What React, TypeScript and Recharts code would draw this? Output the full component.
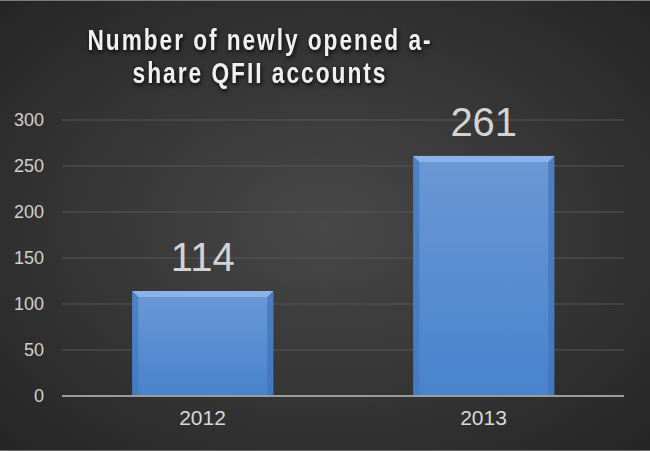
import { BarChart, Bar, XAxis, YAxis, CartesianGrid, LabelList } from 'recharts';

const years = ['2012', '2013'];
const accounts = [114, 261];
const yTicks = [0, 50, 100, 150, 200, 250, 300];

const data = years.map((year, i) => ({ year, value: accounts[i] }));

const FONT = '"Liberation Sans", Arial, Helvetica, sans-serif';

// bar with a light top bevel and darker side edges
const BevelBar = (props: any) => {
  const { x, y, width, height } = props;
  if (!height || height <= 0) return null;
  const b = 6;
  return (
    <g>
      <rect x={x} y={y} width={width} height={height} fill="url(#barFill)" />
      <polygon
        points={`${x},${y} ${x + width},${y} ${x + width - b},${y + b} ${x + b},${y + b}`}
        fill="#8cb2e8"
      />
      <polygon
        points={`${x},${y} ${x + b},${y + b} ${x + b},${y + height} ${x},${y + height}`}
        fill="#4378bd"
        opacity={0.7}
      />
      <polygon
        points={`${x + width},${y} ${x + width - b},${y + b} ${x + width - b},${y + height} ${x + width},${y + height}`}
        fill="#4074b8"
        opacity={0.7}
      />
    </g>
  );
};

export default function App() {
  return (
    <div
      style={{
        position: 'absolute',
        left: 0,
        top: 0,
        width: 650,
        height: 451,
        overflow: 'hidden',
        background: 'radial-gradient(ellipse at 50% 50%, #484848 0%, #383838 45%, #2a2a2a 85%, #252525 100%)',
      }}
    >
      <div style={{ position: 'absolute', left: 0, top: 0, width: 650, height: 1, background: '#7c7c7c' }} />
      <div style={{ position: 'absolute', left: 0, top: 450, width: 650, height: 1, background: '#6a6a6a' }} />

      <svg width={650} height={100} style={{ position: 'absolute', left: 0, top: 0 }}>
        <g
          fontFamily={FONT}
          fontWeight="bold"
          fontSize={29}
          letterSpacing={2.5}
          fill="#f0f0f0"
          textAnchor="middle"
          style={{ filter: 'drop-shadow(1px 2px 2px rgba(0,0,0,0.85))' }}
        >
          <text x={260} y={50} textLength={345} lengthAdjust="spacingAndGlyphs">
            Number of newly opened a-
          </text>
          <text x={260} y={83} textLength={255} lengthAdjust="spacingAndGlyphs">
            share QFII accounts
          </text>
        </g>
      </svg>

      <div style={{ position: 'absolute', left: 0, top: 0 }}>
        <BarChart
          width={650}
          height={451}
          data={data}
          margin={{ top: 120, right: 26, left: 0, bottom: 25 }}
          barCategoryGap="25%"
        >
          <defs>
            <linearGradient id="barFill" x1="0" y1="0" x2="0" y2="1">
              <stop offset="0%" stopColor="#6b98d6" />
              <stop offset="100%" stopColor="#4883cd" />
            </linearGradient>
          </defs>
          <CartesianGrid vertical={false} stroke="#575757" strokeWidth={1} />
          <XAxis
            dataKey="year"
            height={30}
            axisLine={{ stroke: '#9c9c9c', strokeWidth: 2 }}
            tickLine={false}
            tickMargin={8}
            tick={{ fill: '#d8d8d8', fontSize: 21, fontFamily: FONT }}
          />
          <YAxis
            width={62}
            domain={[0, 300]}
            ticks={yTicks}
            axisLine={false}
            tickLine={false}
            tickMargin={12}
            tick={{ fill: '#d0d0d0', fontSize: 18, fontFamily: FONT }}
          />
          <Bar dataKey="value" shape={BevelBar} isAnimationActive={false}>
            <LabelList
              dataKey="value"
              position="top"
              offset={20}
              fill="#d3d3d3"
              fontSize={40}
              fontFamily={FONT}
            />
          </Bar>
        </BarChart>
      </div>
    </div>
  );
}
